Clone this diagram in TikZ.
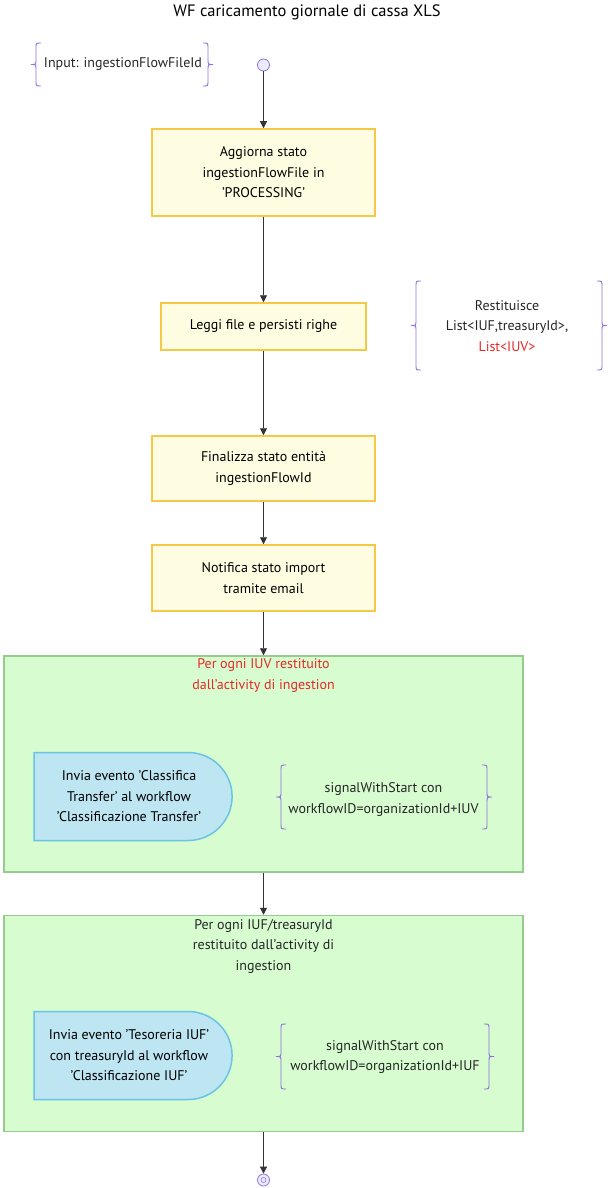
\documentclass[tikz,border=0pt]{standalone}
\usepackage{fontspec}
\setmainfont{PT Sans}
\usetikzlibrary{positioning,arrows.meta,shapes.misc}
\definecolor{stepfill}{RGB}{255,253,225}
\definecolor{stepline}{RGB}{246,200,72}
\definecolor{loopfill}{RGB}{214,252,208}
\definecolor{loopline}{RGB}{148,204,140}
\definecolor{sendfill}{RGB}{189,229,242}
\definecolor{sendline}{RGB}{108,196,228}
\definecolor{bracecol}{RGB}{147,112,219}
\definecolor{startfill}{RGB}{236,236,255}
\definecolor{alert}{RGB}{232,40,40}
\definecolor{edge}{RGB}{51,51,51}
% curly braces round the notes: x, top, bottom
\newcommand{\leftbr}[3]{%
  \draw[bracecol,line width=.9pt] ({#1+5},#2) .. controls (#1,#2) .. (#1,{#2+5})
    -- (#1,{(#2+#3)/2-5}) .. controls (#1,{(#2+#3)/2}) .. ({#1-5},{(#2+#3)/2})
    .. controls (#1,{(#2+#3)/2}) .. (#1,{(#2+#3)/2+5})
    -- (#1,{#3-5}) .. controls (#1,#3) .. ({#1+5},#3);}
\newcommand{\rightbr}[3]{%
  \draw[bracecol,line width=.9pt] ({#1-5},#2) .. controls (#1,#2) .. (#1,{#2+5})
    -- (#1,{(#2+#3)/2-5}) .. controls (#1,{(#2+#3)/2}) .. ({#1+5},{(#2+#3)/2})
    .. controls (#1,{(#2+#3)/2}) .. (#1,{(#2+#3)/2+5})
    -- (#1,{#3-5}) .. controls (#1,#3) .. ({#1-5},#3);}

\begin{document}
\begin{tikzpicture}[x=1pt,y=-1pt,
    font=\fontsize{14}{20.5}\selectfont,
    stepbox/.style={draw=stepline,fill=stepfill,line width=1.5pt,align=center,minimum width=223pt},
    loopbox/.style={draw=loopline,fill=loopfill,line width=1.5pt,minimum width=519pt,minimum height=216pt},
    sendbox/.style={draw=sendline,fill=sendfill,line width=1.5pt,align=center,
      rounded rectangle,rounded rectangle left arc=none,minimum width=206pt,minimum height=88pt,inner xsep=4pt},
    note/.style={align=center,text=black!85},
    flow/.style={draw=edge,line width=.8pt,-{Triangle[length=7pt,width=7pt]}}]
  \useasboundingbox (0,0) rectangle (614,1188);

  \node[font=\fontsize{16.5}{20}\selectfont] (title) at (307,12) {WF caricamento giornale di cassa XLS};

  % input and start
  \node[note] (inputnote) at (123,64) {Input: ingestionFlowFileId};
  \leftbr{36}{43}{86}
  \rightbr{208}{43}{86}
  \node[circle,draw=bracecol,fill=startfill,line width=.8pt,minimum size=12pt,inner sep=0] (start) at (263.5,65) {};

  % activities
  \node[stepbox,minimum height=87pt] (markproc) at (263.5,172.5)
    {Aggiorna stato\\ingestionFlowFile in\\'PROCESSING'};
  \node[stepbox,minimum width=205pt,minimum height=47pt] (readfile) at (263.5,326.5)
    {Leggi file e persisti righe};
  \node[note] (returnnote) at (507,326)
    {Restituisce\\List<IUF,treasuryId>,\\\textcolor{alert}{List<IUV>}};
  \leftbr{416}{281}{370}
  \rightbr{602}{281}{370}
  \node[stepbox,minimum height=65pt] (finalize) at (263.5,468.5)
    {Finalizza stato entità\\ingestionFlowId};
  \node[stepbox,minimum height=66pt] (notify) at (263.5,578)
    {Notifica stato import\\tramite email};

  % loop over IUV
  \node[loopbox] (loopiuv) at (263.5,764) {};
  \node[note,text=alert] (loopiuvlabel) at (263.5,675.5)
    {Per ogni IUV restituito\\dall'activity di ingestion};
  \node[sendbox] (sendtransfer) at (129,796.5)
    {Invia evento 'Classifica\\Transfer' al workflow\\'Classificazione Transfer'};
  \node[note] (signaliuv) at (383.5,799.5)
    {signalWithStart con\\workflowID=organizationId+IUV};
  \leftbr{281}{765}{829}
  \rightbr{487}{765}{829}

  % loop over IUF
  \node[loopbox] (loopiuf) at (263.5,1023.5) {};
  \node[note] (loopiuflabel) at (263.5,946)
    {Per ogni IUF/treasuryId\\restituito dall'activity di\\ingestion};
  \node[sendbox] (sendtreasury) at (129,1055.5)
    {Invia evento 'Tesoreria IUF'\\con treasuryId al workflow\\'Classificazione IUF'};
  \node[note] (signaliuf) at (385,1057)
    {signalWithStart con\\workflowID=organizationId+IUF};
  \leftbr{281}{1024}{1089}
  \rightbr{489}{1024}{1089}

  % end
  \node[circle,draw=bracecol,fill=startfill,line width=.8pt,minimum size=12pt,inner sep=0] (stop) at (263.5,1180) {};
  \node[circle,draw=bracecol,line width=.6pt,minimum size=5pt,inner sep=0] (stopdot) at (stop) {};

  \draw[flow] (start) -- (markproc);
  \draw[flow] (markproc) -- (readfile);
  \draw[flow] (readfile) -- (finalize);
  \draw[flow] (finalize) -- (notify);
  \draw[flow] (notify) -- (loopiuv);
  \draw[flow] (loopiuv) -- (loopiuf);
  \draw[flow] (loopiuf) -- (stop);
\end{tikzpicture}
\end{document}
